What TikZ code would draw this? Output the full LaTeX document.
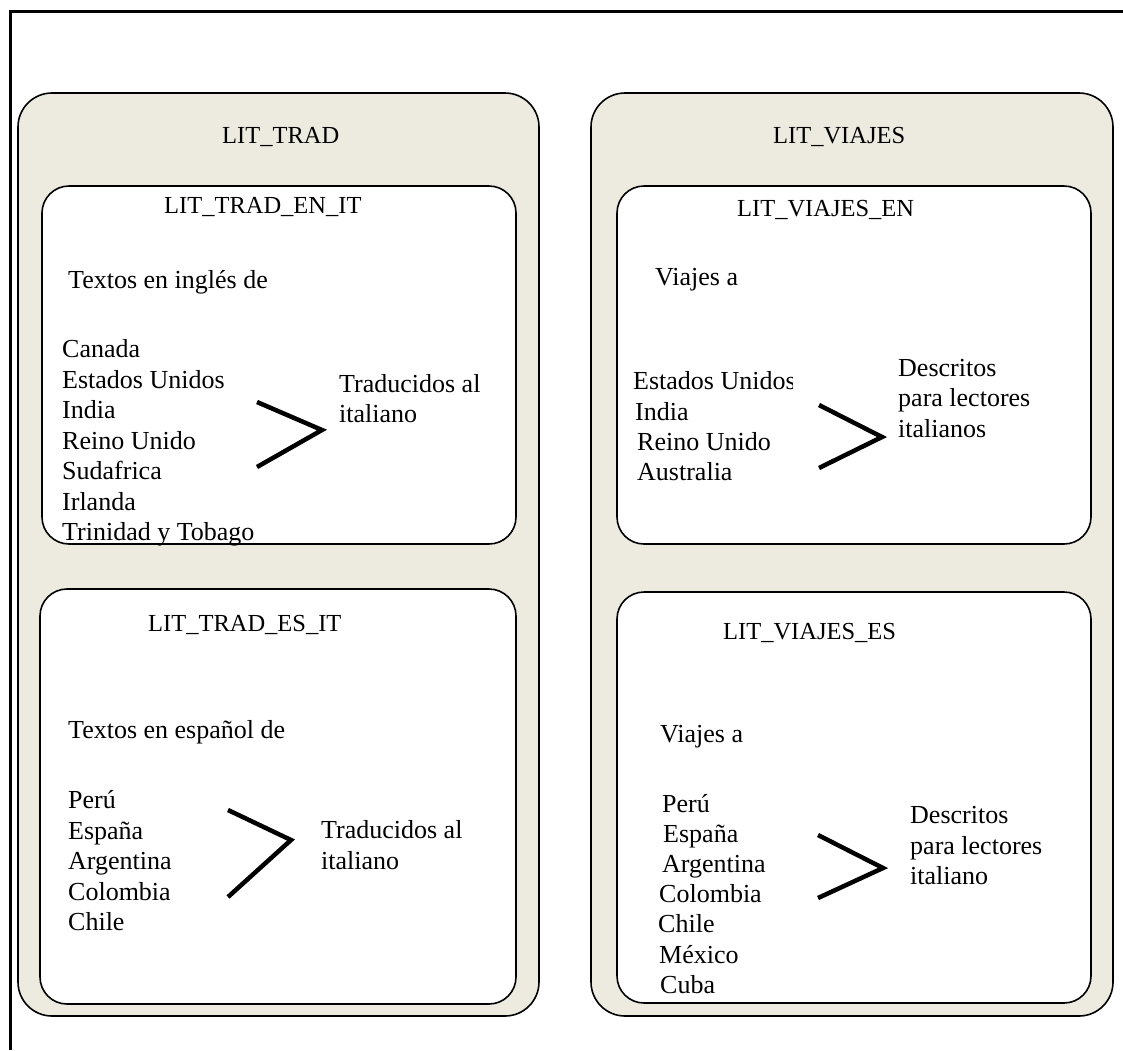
\documentclass[tikz,border=0pt]{standalone}
\usepackage{fontspec}
\setmainfont{Liberation Serif}
\definecolor{beige}{HTML}{EDEBE0}
\begin{document}
\begin{tikzpicture}[x=1pt,y=-1pt,
  outerbox/.style={draw=black,line width=1.6pt,fill=beige,rounded corners=34pt},
  innerbox/.style={draw=black,line width=1.6pt,fill=white,rounded corners=27pt},
  lbl/.style={anchor=base west,inner sep=0pt,font=\fontsize{26}{30}\selectfont},
  ttl/.style={anchor=base west,inner sep=0pt,font=\fontsize{24.5}{30}\selectfont},
  chev/.style={line width=4.5pt,line cap=butt,line join=miter}]
\useasboundingbox (0,0) rectangle (1123,1050);
% frame
\draw[line width=3pt] (10,1050) -- (10,11) -- (1123,11);
% boxes
\draw[outerbox] (18,93) rectangle (539,1016);
\draw[outerbox] (591,93) rectangle (1113,1016);
\draw[innerbox] (42,186) rectangle (516,544);
\draw[innerbox] (40,589) rectangle (516,1004);
\draw[innerbox] (617,186) rectangle (1091,544);
\draw[innerbox] (617,592) rectangle (1091,1003);
% titles
\node[ttl] (t1) at (222,143) {LIT\_TRAD};
\node[ttl] (t2) at (773,143) {LIT\_VIAJES};
\node[ttl] (t3) at (164,213) {LIT\_TRAD\_EN\_IT};
\node[ttl] (t4) at (148,631) {LIT\_TRAD\_ES\_IT};
\node[ttl] (t5) at (737,216) {LIT\_VIAJES\_EN};
\node[ttl] (t6) at (723,639) {LIT\_VIAJES\_ES};
% box 1
\node[lbl] (a0) at (68,288) {Textos en inglés de};
\node[lbl] (a1) at (62,357) {Canada};
\node[lbl] (a2) at (62,388) {Estados Unidos};
\node[lbl] (a3) at (62,418) {India};
\node[lbl] (a4) at (62,449) {Reino Unido};
\node[lbl] (a5) at (62,479) {Sudafrica};
\node[lbl] (a6) at (62,510) {Irlanda};
\node[lbl] (a7) at (62,540) {Trinidad y Tobago};
\node[lbl] (a8) at (339,392) {Traducidos al};
\node[lbl] (a9) at (339,422) {italiano};
\coordinate (c1a) at (257,402);
\coordinate (c1b) at (322,430);
\coordinate (c1c) at (257,467);
\draw[chev] (c1a) -- (c1b) -- (c1c);
% box 2
\node[lbl] (b0) at (68,738) {Textos en español de};
\node[lbl] (b1) at (68,808) {Perú};
\node[lbl] (b2) at (68,839) {España};
\node[lbl] (b3) at (68,869) {Argentina};
\node[lbl] (b4) at (68,900) {Colombia};
\node[lbl] (b5) at (68,930) {Chile};
\node[lbl] (b8) at (321,838) {Traducidos al};
\node[lbl] (b9) at (321,869) {italiano};
\coordinate (c2a) at (228,810);
\coordinate (c2b) at (291,840);
\coordinate (c2c) at (228,897);
\draw[chev] (c2a) -- (c2b) -- (c2c);
% box 3
\node[lbl] (d0) at (655,285) {Viajes a};
\begin{scope}
\clip (620,350) rectangle (792,400);
\node[lbl] (d1) at (633,389) {Estados Unidos};
\end{scope}
\node[lbl] (d2) at (635,420) {India};
\node[lbl] (d3) at (637,450) {Reino Unido};
\node[lbl] (d4) at (637,480) {Australia};
\node[lbl] (d7) at (898,376) {Descritos};
\node[lbl] (d8) at (898,406) {para lectores};
\node[lbl] (d9) at (898,437) {italianos};
\coordinate (c3a) at (819,405);
\coordinate (c3b) at (882,437);
\coordinate (c3c) at (819,468);
\draw[chev] (c3a) -- (c3b) -- (c3c);
% box 4
\node[lbl] (e0) at (660,742) {Viajes a};
\node[lbl] (e1) at (662,812) {Perú};
\node[lbl] (e2) at (663,842) {España};
\node[lbl] (e3) at (662,872) {Argentina};
\node[lbl] (e4) at (659,902) {Colombia};
\node[lbl] (e5) at (658,932) {Chile};
\node[lbl] (e6) at (659,963) {México};
\node[lbl] (e7) at (660,993) {Cuba};
\node[lbl] (e8) at (910,823) {Descritos};
\node[lbl] (e9) at (910,854) {para lectores};
\node[lbl] (e10) at (910,884) {italiano};
\coordinate (c4a) at (818,835);
\coordinate (c4b) at (883,868);
\coordinate (c4c) at (818,898);
\draw[chev] (c4a) -- (c4b) -- (c4c);
\end{tikzpicture}
\end{document}
